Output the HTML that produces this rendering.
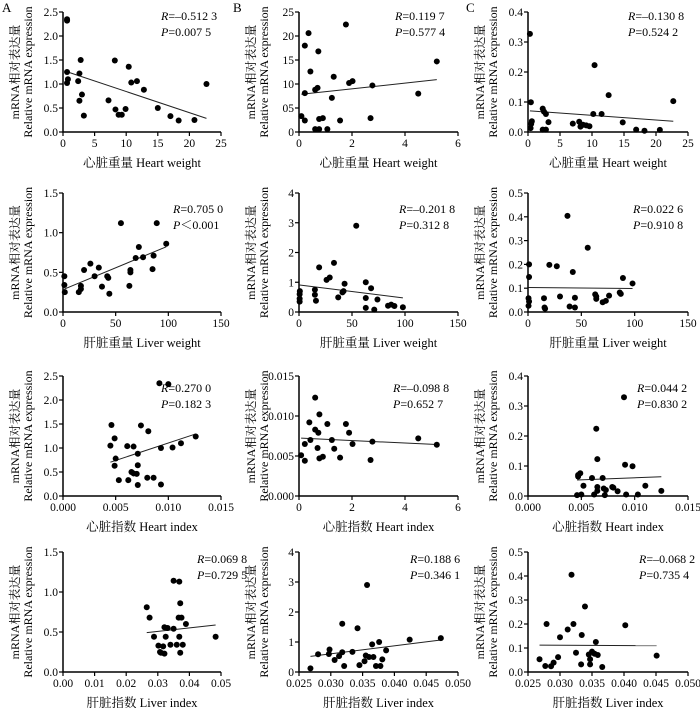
<!DOCTYPE html>
<html><head><meta charset="utf-8">
<style>
html,body{margin:0;padding:0;background:#fff;}
svg{display:block;}
text{font-family:"Liberation Serif","Noto Serif CJK SC","Noto Sans CJK SC",serif;fill:#000;}
</style></head>
<body>
<svg id="chart" width="700" height="708" viewBox="0 0 700 708"></svg>
<script>
// ---- data ----
const p1a_x=[0.64,0.64,0.64,0.78,0.64,2.8,2.6,2.4,2.6,3.0,3.3,7.2,8.2,8.3,8.8,9.3,9.9,10.4,10.8,11.7,12.8,15,17,18.3,20.8,22.7];
const p1a_y=[2.35,2.32,1.25,1.10,1.02,1.5,1.22,1.06,0.65,0.78,0.34,0.66,1.49,0.47,0.36,0.36,0.48,1.36,1.03,1.06,0.88,0.5,0.33,0.24,0.25,1.0];
const p1b_x=[0.09,0.22,0.22,0.22,0.36,0.43,0.61,0.7,0.73,0.61,0.76,0.76,0.9,1.07,1.24,1.31,1.55,1.77,1.89,2.02,2.7,2.77,4.5,5.2];
const p1b_y=[3.3,2.4,8.1,18,20.6,12.6,8.8,9.2,16.8,0.6,0.6,2.7,2.9,0.6,7.1,11.5,2.4,22.4,10.2,10.6,2.9,9.7,8.0,14.7];
const p1c_x=[0.3,0.45,0.4,0.5,0.6,2.3,2.5,2.8,2.3,2.8,3.2,7,8,8.2,8.6,9.1,9.6,10.2,10.4,11.5,12.6,14.8,16.9,18.2,20.6,22.7];
const p1c_y=[0.327,0.099,0.013,0.027,0.036,0.078,0.068,0.06,0.008,0.008,0.033,0.028,0.034,0.018,0.024,0.022,0.019,0.06,0.223,0.06,0.123,0.032,0.008,0.004,0.007,0.103];
const p2a_x=[1.3,1.3,1.7,15,17,17,20,26,30,34,37,42,43,44,55,63,64,64,69,72,76,85,86,89,98];
const p2a_y=[0.45,0.34,0.25,0.25,0.29,0.33,0.53,0.61,0.45,0.56,0.32,0.45,0.43,0.23,1.12,0.33,0.53,0.5,0.68,0.82,0.69,0.54,0.71,1.12,0.86];
const p2b_x=[0.6,0.6,0.6,0.8,15,15,16,19,26,29,33,37,41,42,43,54,63,63,63,68,71,74,84,87,90,98];
const p2b_y=[0.6,0.45,0.35,0.7,0.75,0.58,0.38,1.5,1.08,1.16,1.65,0.49,0.66,0.7,0.95,2.9,1.0,0.47,0.14,0.8,0.08,0.42,0.21,0.25,0.2,0.16];
const p2c_x=[1,1,0.5,1,0.5,15,15.5,16,20,27,30,37,39,42,44,44,56,63,64,64,70,73,76,86,87,89,98];
const p2c_y=[0.2,0.147,0.058,0.044,0.026,0.058,0.019,0.014,0.198,0.192,0.065,0.404,0.023,0.168,0.06,0.019,0.27,0.074,0.065,0.055,0.041,0.047,0.069,0.082,0.076,0.143,0.12];
const p3a_x=[0.00915,0.0100,0.0046,0.0045,0.0049,0.0050,0.0049,0.0053,0.0061,0.0067,0.0062,0.0065,0.0067,0.0070,0.0071,0.0074,0.0071,0.0071,0.0081,0.0080,0.0086,0.0093,0.0093,0.0104,0.0112,0.0126];
const p3a_y=[2.35,2.33,1.48,1.05,1.2,0.78,0.63,0.33,1.04,1.03,0.33,0.5,0.47,0.46,0.23,1.47,0.64,0.88,1.35,0.38,0.38,1.0,0.24,1.01,1.1,1.24];
const p3b_x=[0.08,0.22,0.22,0.39,0.43,0.61,0.61,0.77,0.73,0.7,0.77,0.9,1.07,1.24,1.33,1.55,1.77,1.89,2.02,2.7,2.77,4.5,5.2];
const p3b_y=[0.0051,0.0044,0.0065,0.0092,0.0070,0.0083,0.0123,0.0102,0.0079,0.0060,0.0047,0.0049,0.0090,0.0070,0.0059,0.0048,0.0090,0.0079,0.0065,0.0045,0.0068,0.0072,0.0064];
const p3c_x=[0.0046,0.0050,0.0047,0.0049,0.0047,0.0052,0.0060,0.0062,0.0064,0.0065,0.0065,0.0065,0.0070,0.0071,0.0072,0.0073,0.0079,0.0080,0.0084,0.0090,0.0091,0.0092,0.0098,0.0103,0.0110,0.0125];
const p3c_y=[0.003,0.005,0.065,0.076,0.070,0.034,0.060,0.005,0.224,0.123,0.030,0.017,0.060,0.025,0.003,0.020,0.030,0.028,0.016,0.329,0.104,0.005,0.099,0.005,0.034,0.017];
const p4a_x=[0.0265,0.0274,0.0288,0.0302,0.0307,0.031,0.0317,0.0321,0.0325,0.0321,0.0331,0.034,0.035,0.035,0.036,0.0366,0.0368,0.0368,0.0371,0.0371,0.0375,0.0379,0.0389,0.0483];
const p4a_y=[0.81,0.68,0.44,0.33,0.25,0.24,0.32,0.56,0.44,0.23,0.55,0.34,1.14,0.54,0.34,0.68,1.13,0.44,0.24,0.86,0.68,0.34,0.6,0.44];
const p4b_x=[0.0268,0.028,0.0298,0.0297,0.0306,0.0313,0.0318,0.0318,0.0321,0.0334,0.0342,0.0345,0.0353,0.0355,0.0357,0.036,0.0365,0.0367,0.0371,0.0376,0.0378,0.0381,0.0387,0.0424,0.0473];
const p4b_y=[0.12,0.59,0.75,0.6,0.4,0.53,1.61,0.66,0.2,0.67,1.46,0.23,0.36,0.55,2.9,0.5,0.92,0.5,0.2,1.0,0.2,0.42,0.72,1.08,1.13];
const p4c_x=[0.0268,0.0279,0.0277,0.0286,0.029,0.0297,0.03,0.0318,0.0312,0.0321,0.0325,0.0333,0.0334,0.0339,0.0345,0.0347,0.035,0.0347,0.0354,0.0356,0.0359,0.0366,0.0402,0.0451];
const p4c_y=[0.053,0.2,0.025,0.024,0.039,0.062,0.145,0.405,0.177,0.2,0.08,0.032,0.154,0.273,0.073,0.053,0.085,0.032,0.076,0.125,0.071,0.021,0.195,0.068];

const t_hw=[0,5,10,15,20,25], t_lw=[0,50,100,150], t_hi=[0,0.005,0.010,0.015], t_hi2=[0,2,4,6];
const t_li=[0,0.01,0.02,0.03,0.04,0.05], t_li2=[0.025,0.030,0.035,0.040,0.045,0.050];

const cols=[[63,221],[299,458],[528,688]];
const rows=[[12,132],[193,312],[376,496],[552,672]];

const panels=[
 {n:'heart-weight-a',c:0,r:0,x:p1a_x,y:p1a_y,xd:[0,25],yd:[0,2.5],xt:t_hw,xl:t_hw.map(String),yt:[0,0.5,1,1.5,2,2.5],yl:['0.0','0.5','1.0','1.5','2.0','2.5'],xt2:'心脏重量  Heart weight',R:'=–0.512 3',P:'=0.007 5',ax:161},
 {n:'heart-weight-b',c:1,r:0,x:p1b_x,y:p1b_y,xd:[0,6],yd:[0,25],xt:[0,2,4,6],xl:['0','2','4','6'],yt:[0,5,10,15,20,25],yl:['0','05','10','15','20','25'],xt2:'心脏重量  Heart weight',R:'=0.119 7',P:'=0.577 4',ax:395},
 {n:'heart-weight-c',c:2,r:0,x:p1c_x,y:p1c_y,xd:[0,25],yd:[0,0.4],xt:t_hw,xl:t_hw.map(String),yt:[0,0.1,0.2,0.3,0.4],yl:['0.0','0.1','0.2','0.3','0.4'],xt2:'心脏重量  Heart weight',R:'=–0.130 8',P:'=0.524 2',ax:628},
 {n:'liver-weight-a',c:0,r:1,x:p2a_x,y:p2a_y,xd:[0,150],yd:[0,1.5],xt:t_lw,xl:t_lw.map(String),yt:[0,0.5,1,1.5],yl:['0.0','0.5','1.0','1.5'],xt2:'肝脏重量  Liver weight',R:'=0.705 0',P:'＜0.001',ax:173},
 {n:'liver-weight-b',c:1,r:1,x:p2b_x,y:p2b_y,xd:[0,150],yd:[0,4],xt:t_lw,xl:t_lw.map(String),yt:[0,1,2,3,4],yl:['0','1','2','3','4'],xt2:'肝脏重量  Liver weight',R:'=–0.201 8',P:'=0.312 8',ax:399},
 {n:'liver-weight-c',c:2,r:1,x:p2c_x,y:p2c_y,xd:[0,150],yd:[0,0.5],xt:t_lw,xl:t_lw.map(String),yt:[0,0.1,0.2,0.3,0.4,0.5],yl:['0.0','0.1','0.2','0.3','0.4','0.5'],xt2:'肝脏重量  Liver weight',R:'=0.022 6',P:'=0.910 8',ax:633},
 {n:'heart-index-a',c:0,r:2,x:p3a_x,y:p3a_y,xd:[0,0.015],yd:[0,2.5],xt:t_hi,xl:['0.000','0.005','0.010','0.015'],yt:[0,0.5,1,1.5,2,2.5],yl:['0.0','0.5','1.0','1.5','2.0','2.5'],xt2:'心脏指数  Heart index',R:'=0.270 0',P:'=0.182 3',ax:161},
 {n:'heart-index-b',c:1,r:2,x:p3b_x,y:p3b_y,xd:[0,6],yd:[0,0.015],xt:t_hi2,xl:['0','2','4','6'],yt:[0,0.005,0.010,0.015],yl:['0.000','0.005','0.010','0.015'],xt2:'心脏指数  Heart index',R:'=–0.098 8',P:'=0.652 7',ax:393},
 {n:'heart-index-c',c:2,r:2,x:p3c_x,y:p3c_y,xd:[0,0.015],yd:[0,0.4],xt:t_hi,xl:['0.000','0.005','0.010','0.015'],yt:[0,0.1,0.2,0.3,0.4],yl:['0.0','0.1','0.2','0.3','0.4'],xt2:'心脏指数  Heart index',R:'=0.044 2',P:'=0.830 2',ax:637},
 {n:'liver-index-a',c:0,r:3,x:p4a_x,y:p4a_y,xd:[0,0.05],yd:[0,1.5],xt:t_li,xl:['0.00','0.01','0.02','0.03','0.04','0.05'],yt:[0,0.5,1,1.5],yl:['0.0','0.5','1.0','1.5'],xt2:'肝脏指数  Liver index',R:'=0.069 8',P:'=0.729 5',ax:197},
 {n:'liver-index-b',c:1,r:3,x:p4b_x,y:p4b_y,xd:[0.025,0.05],yd:[0,4],xt:t_li2,xl:['0.025','0.030','0.035','0.040','0.045','0.050'],yt:[0,1,2,3,4],yl:['0','1','2','3','4'],xt2:'肝脏指数  Liver index',R:'=0.188 6',P:'=0.346 1',ax:410},
 {n:'liver-index-c',c:2,r:3,x:p4c_x,y:p4c_y,xd:[0.025,0.05],yd:[0,0.5],xt:t_li2,xl:['0.025','0.030','0.035','0.040','0.045','0.050'],yt:[0,0.1,0.2,0.3,0.4,0.5],yl:['0.0','0.1','0.2','0.3','0.4','0.5'],xt2:'肝脏指数  Liver index',R:'=–0.068 2',P:'=0.735 4',ax:639}
];

const NS='http://www.w3.org/2000/svg';
const svg=document.getElementById('chart');
function mk(tag,attrs,parent){const e=document.createElementNS(NS,tag);for(const k in attrs)e.setAttribute(k,attrs[k]);(parent||svg).appendChild(e);return e;}

['A','B','C'].forEach((L,i)=>{
  const t=mk('text',{x:[2,233,466][i],y:12,'font-size':13});
  t.textContent=L;
  
  
});

panels.forEach(p=>{
  const [x0,x1]=cols[p.c],[y0,y1]=rows[p.r];
  const sx=v=>x0+(v-p.xd[0])/(p.xd[1]-p.xd[0])*(x1-x0);
  const sy=v=>y1-(v-p.yd[0])/(p.yd[1]-p.yd[0])*(y1-y0);
  const g=mk('g',{});
  
  
  const ax=mk('path',{d:`M${x0},${y0} L${x0},${y1} L${x1},${y1}`,fill:'none',stroke:'#000','stroke-width':1.5},g);
  
  
  p.yt.forEach((v,i)=>{
    mk('line',{x1:x0-4,x2:x0,y1:sy(v),y2:sy(v),stroke:'#000','stroke-width':1.2},g);
    const t=mk('text',{x:x0-5,y:sy(v)+4,'text-anchor':'end','font-size':11.5},g);
    t.textContent=p.yl[i];
    
    
  });
  p.xt.forEach((v,i)=>{
    mk('line',{x1:sx(v),x2:sx(v),y1:y1,y2:y1+4,stroke:'#000','stroke-width':1.2},g);
    const t=mk('text',{x:sx(v),y:y1+15,'text-anchor':'middle','font-size':11.5},g);
    t.textContent=p.xl[i];
    
    
  });
  const xt=mk('text',{x:(x0+x1)/2,y:y1+35,'text-anchor':'middle','font-size':12.5},g);
  xt.textContent=p.xt2;
  
  
  const cy=(y0+y1)/2;
  const yt1=mk('text',{x:0,y:0,'text-anchor':'middle','font-size':12,transform:`translate(${x0-44},${cy}) rotate(-90)`},g);
  yt1.textContent='mRNA相对表达量';
  
  
  const yt2=mk('text',{x:0,y:0,'text-anchor':'middle','font-size':12,transform:`translate(${x0-31},${cy}) rotate(-90)`},g);
  yt2.textContent='Relative mRNA expression';
  
  
  const n=p.x.length;let mx=0,my=0;for(let i=0;i<n;i++){mx+=p.x[i];my+=p.y[i];}mx/=n;my/=n;
  let sxy=0,sxx=0;for(let i=0;i<n;i++){sxy+=(p.x[i]-mx)*(p.y[i]-my);sxx+=(p.x[i]-mx)**2;}
  const b=sxy/sxx,a=my-b*mx;const xa=Math.min(...p.x),xb=Math.max(...p.x);
  const rl=mk('line',{x1:sx(xa),y1:sy(a+b*xa),x2:sx(xb),y2:sy(a+b*xb),stroke:'#222','stroke-width':1},g);
  
  
  for(let i=0;i<n;i++){
    const d=mk('circle',{cx:sx(p.x[i]),cy:sy(p.y[i]),r:3,fill:'#000'},g);
    
    
  }
  const base=[20,213,392,563][p.r];
  const rt=mk('text',{x:p.ax,y:base,'font-size':12},g);
  rt.innerHTML='<tspan font-style="italic">R</tspan>'+p.R;
  
  
  const pt=mk('text',{x:p.ax,y:base+16,'font-size':12},g);
  pt.innerHTML='<tspan font-style="italic">P</tspan>'+p.P;
  
  
});
</script>
</body></html>
